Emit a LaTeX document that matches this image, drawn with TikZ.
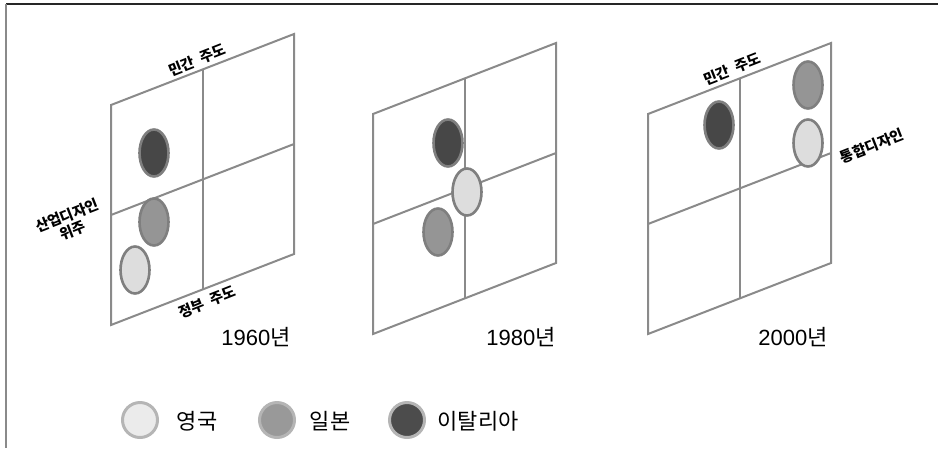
\documentclass[tikz,border=0pt]{standalone}
\usepackage{fontspec}
\setmainfont{Noto Sans CJK KR}
\newfontfamily\digitfont{Liberation Sans}
\usetikzlibrary{shapes.geometric}
\definecolor{gridgray}{HTML}{8A8A8A}
\definecolor{ellborder}{HTML}{7F7F7F}
\definecolor{darkfill}{HTML}{474747}
\definecolor{midfill}{HTML}{959595}
\definecolor{lightfill}{HTML}{DDDDDD}
\definecolor{legborder}{HTML}{B5B5B5}
\begin{document}
\begin{tikzpicture}[x=1pt,y=-1pt,
  gridline/.style={draw=gridgray, line width=2pt},
  ell/.style={ellipse, draw=ellborder, line width=2.6pt, minimum width=29pt, minimum height=47pt, inner sep=0pt},
  darkell/.style={ell, fill=darkfill},
  midell/.style={ell, fill=midfill},
  lightell/.style={ell, fill=lightfill},
  legcirc/.style={circle, draw=legborder, line width=3pt, minimum size=35pt, inner sep=0pt},
  axislabel/.style={font=\bfseries\fontsize{14.5}{15}\selectfont, rotate=21.5, align=center, inner sep=0pt},
  yearlabel/.style={font=\fontsize{22}{24}\selectfont, inner sep=0pt},
  legtext/.style={font=\fontsize{22}{24}\selectfont, inner sep=0pt}
]
\useasboundingbox (0,0) rectangle (939,448);
% frame
\coordinate (ftl) at (6,4);
\coordinate (ftr) at (938,4);
\coordinate (fbl) at (6,448);
\draw[line width=1.8pt, draw=black!85] (ftl) -- (ftr);
\draw[line width=2.4pt, draw=gridgray] (ftl) -- (fbl);
% grids
\foreach \n/\x/\y in {g1/111/105, g2/373/114, g3/648/114} {
  \coordinate (\n tl) at (\x,\y);
  \coordinate (\n tr) at (\x+183,\y-71);
  \coordinate (\n br) at (\x+183,\y+149);
  \coordinate (\n bl) at (\x,\y+220);
  \coordinate (\n vt) at (\x+91.5,\y-35.5);
  \coordinate (\n vb) at (\x+91.5,\y+184.5);
  \coordinate (\n hl) at (\x,\y+110);
  \coordinate (\n hr) at (\x+183,\y+39);
  \draw[gridline] (\n tl) -- (\n tr) -- (\n br) -- (\n bl) -- cycle;
  \draw[gridline] (\n vt) -- (\n vb);
  \draw[gridline] (\n hl) -- (\n hr);
}
% grid 1 (1960)
\node[darkell] (d1) at (154,153) {};
\node[midell] (m1) at (154,222) {};
\node[lightell] (l1) at (135,270) {};
\node[axislabel] (p1) at (197,60) {민간\hspace{0.45em}주도};
\node[axislabel] (s1) at (70,223) {산업디자인\\[1pt]위주};
\node[axislabel] (k1) at (207,302) {정부\hspace{0.45em}주도};
\node[yearlabel] (y1) at (256,337) {{\digitfont 1960}년};
% grid 2 (1980)
\node[darkell] (d2) at (448,143) {};
\node[midell] (m2) at (438,232) {};
\node[lightell] (l2) at (467,192) {};
\node[yearlabel] (y2) at (521,337) {{\digitfont 1980}년};
% grid 3 (2000)
\node[darkell] (d3) at (719,125) {};
\node[midell] (m3) at (808,85) {};
\node[lightell] (l3) at (808,143) {};
\node[axislabel] (p3) at (732,69) {민간\hspace{0.45em}주도};
\node[axislabel] (t3) at (872,146) {통합디자인};
\node[yearlabel] (y3) at (793,337) {{\digitfont 2000}년};
% legend
\node[legcirc, fill=black!8] (lc1) at (140,420) {};
\node[legtext] (lt1) at (197,421) {영국};
\node[legcirc, fill=black!40] (lc2) at (277,420) {};
\node[legtext] (lt2) at (330,421) {일본};
\node[legcirc, fill=black!70] (lc3) at (407,420) {};
\node[legtext] (lt3) at (478,421) {이탈리아};
\end{tikzpicture}
\end{document}
